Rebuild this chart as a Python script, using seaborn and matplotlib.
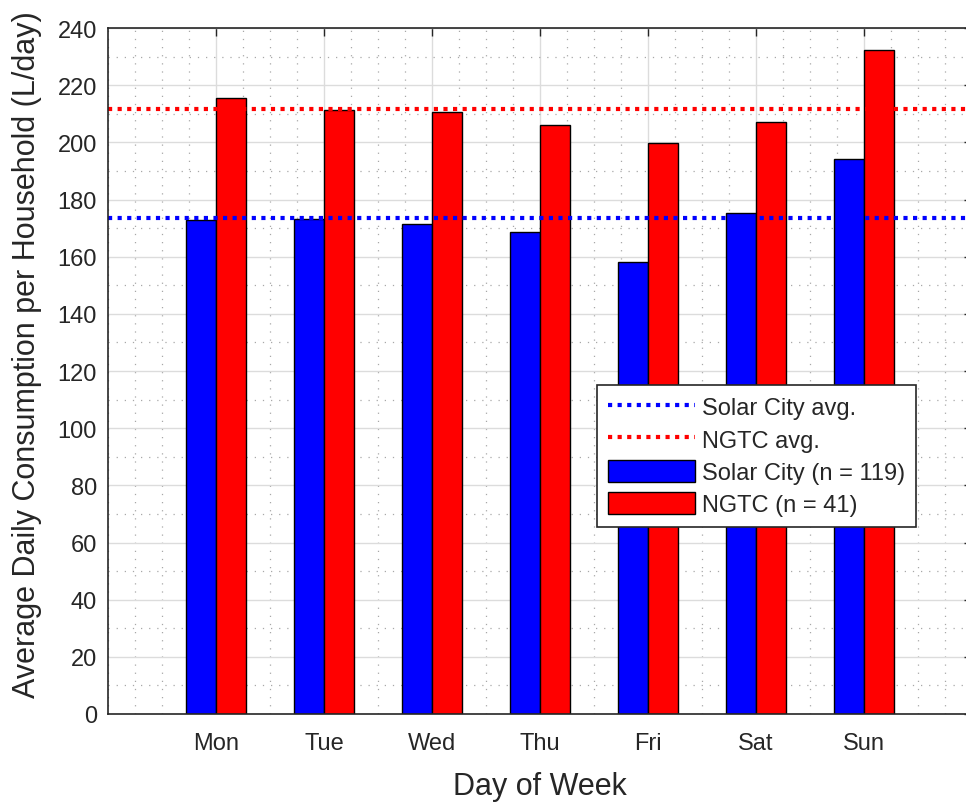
import pandas as pd
import matplotlib.pyplot as plt
import seaborn as sns
from matplotlib.ticker import MultipleLocator
from matplotlib.lines import Line2D
from matplotlib.patches import Patch

# Values
days = ['Mon', 'Tue', 'Wed', 'Thu', 'Fri', 'Sat', 'Sun']
day_pos = [1, 2, 3, 4, 5, 6, 7]
solar_city = [173.0, 173.2, 171.4, 168.6, 158.2, 175.3, 194.2]
ngtc = [215.5, 211.3, 210.6, 206.0, 199.8, 207.1, 232.3]
solar_avg = 173.4
ngtc_avg = 211.8
series_names = ['Solar City (n = 119)', 'NGTC (n = 41)']
avg_names = ['Solar City avg.', 'NGTC avg.']

data = pd.DataFrame({
    'day': day_pos * 2,
    'value': solar_city + ngtc,
    'group': [series_names[0]] * 7 + [series_names[1]] * 7,
})

sns.set_style('white')
plt.rcParams['font.family'] = ['Liberation Sans', 'DejaVu Sans']

fig = plt.figure(figsize=(9.66, 8.04), dpi=100)
ax = fig.add_axes([0.1118, 0.1107, 0.8944, 0.8532])

# grid first so bars sit on top
ax.set_axisbelow(True)
ax.grid(which='major', color='#dcdcdc', linewidth=1.0, linestyle='-')
ax.grid(which='minor', color='#a8a8a8', linewidth=0.9, linestyle=(0, (1, 5.5)))

sns.barplot(data=data, x='day', y='value', hue='group', native_scale=True,
            palette=['#0000ff', '#ff0000'], saturation=1, width=0.56,
            edgecolor='black', linewidth=1.0, errorbar=None, legend=False, ax=ax)

ax.axhline(solar_avg, color='#0000ff', linewidth=3, linestyle=(0, (1, 1.3)))
ax.axhline(ngtc_avg, color='#ff0000', linewidth=3, linestyle=(0, (1, 1.3)))

ax.set_xlim(0, 8)
ax.set_ylim(0, 240)
ax.set_xticks(day_pos)
ax.set_xticklabels(days)
ax.set_yticks(range(0, 241, 20))
ax.xaxis.set_minor_locator(MultipleLocator(0.25))
ax.yaxis.set_minor_locator(MultipleLocator(10))

ax.tick_params(which='major', direction='in', length=6, width=1, colors='#262626',
               labelsize=17, top=True, right=True)
ax.tick_params(axis='x', which='major', pad=13)
ax.tick_params(axis='y', which='major', pad=8)
ax.tick_params(which='minor', length=0)
for side in ['left', 'bottom', 'top', 'right']:
    ax.spines[side].set_color('#262626')
    ax.spines[side].set_linewidth(1.2)

ax.set_xlabel('Day of Week', fontsize=22, color='#262626', labelpad=12)
ax.set_ylabel('Average Daily Consumption per Household (L/day)', fontsize=22,
              color='#262626')
ax.yaxis.set_label_coords(-0.076, 0.525)

handles = [
    Line2D([], [], color='#0000ff', linewidth=3, linestyle=(0, (1, 1.3))),
    Line2D([], [], color='#ff0000', linewidth=3, linestyle=(0, (1, 1.3))),
    Patch(facecolor='#0000ff', edgecolor='black'),
    Patch(facecolor='#ff0000', edgecolor='black'),
]
leg = ax.legend(handles, avg_names + series_names, loc='upper left',
                bbox_to_anchor=(0.566, 0.48), fontsize=17, fancybox=False,
                framealpha=1, edgecolor='#262626', handlelength=3.7,
                handleheight=1.05, handletextpad=0.3, labelspacing=0.35,
                borderpad=0.45, borderaxespad=0)
leg.get_frame().set_linewidth(1.2)

fig.savefig('out.png', dpi=100)
